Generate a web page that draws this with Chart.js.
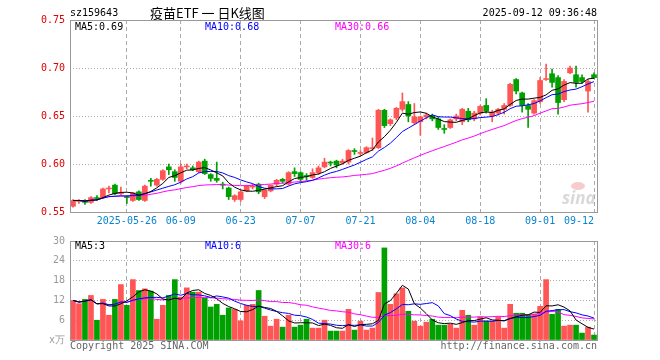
<!DOCTYPE html>
<html>
<head>
<meta charset="utf-8">
<script src="https://cdn.jsdelivr.net/npm/chart.js@4.4.1/dist/chart.umd.min.js"></script>
<style>
body { margin: 0; background: #fff; width: 660px; height: 360px; overflow: hidden; position: relative; }
canvas { position: absolute; left: 0; }
#kline { top: 0; }
#vol { top: 230px; }
</style>
</head>
<body>
<canvas id="kline" width="660" height="230"></canvas>
<canvas id="vol" width="660" height="130"></canvas>
<script>
var dates = [
    '2025-05-13','2025-05-14','2025-05-15','2025-05-16','2025-05-19','2025-05-20','2025-05-21','2025-05-22','2025-05-23','2025-05-26',
    '2025-05-27','2025-05-28','2025-05-29','2025-05-30','2025-06-03','2025-06-04','2025-06-05','2025-06-06','2025-06-09','2025-06-10',
    '2025-06-11','2025-06-12','2025-06-13','2025-06-16','2025-06-17','2025-06-18','2025-06-19','2025-06-20','2025-06-23','2025-06-24',
    '2025-06-25','2025-06-26','2025-06-27','2025-06-30','2025-07-01','2025-07-02','2025-07-03','2025-07-04','2025-07-07','2025-07-08',
    '2025-07-09','2025-07-10','2025-07-11','2025-07-14','2025-07-15','2025-07-16','2025-07-17','2025-07-18','2025-07-21','2025-07-22',
    '2025-07-23','2025-07-24','2025-07-25','2025-07-28','2025-07-29','2025-07-30','2025-07-31','2025-08-01','2025-08-04','2025-08-05',
    '2025-08-06','2025-08-07','2025-08-08','2025-08-11','2025-08-12','2025-08-13','2025-08-14','2025-08-15','2025-08-18','2025-08-19',
    '2025-08-20','2025-08-21','2025-08-22','2025-08-25','2025-08-26','2025-08-27','2025-08-28','2025-08-29','2025-09-01','2025-09-02',
    '2025-09-03','2025-09-04','2025-09-05','2025-09-08','2025-09-09','2025-09-10','2025-09-11','2025-09-12'
];
var openP = [
    .556,.561,.562,.560,.565,.565,.574,.578,.569,.566,
    .562,.571,.562,.583,.578,.584,.597,.592,.582,.597,
    .596,.592,.603,.589,.585,.579,.575,.563,.563,.572,
    .576,.579,.566,.572,.579,.584,.579,.592,.591,.588,
    .586,.591,.597,.602,.603,.601,.602,.614,.611,.612,
    .616,.617,.656,.642,.648,.657,.662,.643,.644,.649,
    .650,.647,.637,.638,.647,.644,.655,.647,.653,.661,
    .650,.653,.657,.661,.688,.674,.661,.653,.665,.688,
    .694,.690,.667,.695,.693,.690,.676,.693
];
var highP = [
    .563,.563,.563,.566,.567,.575,.577,.579,.576,.567,
    .570,.572,.578,.585,.585,.594,.600,.594,.600,.600,
    .598,.603,.605,.590,.602,.581,.576,.568,.572,.578,
    .579,.580,.573,.578,.584,.585,.592,.596,.592,.590,
    .595,.598,.606,.603,.604,.605,.615,.616,.614,.618,
    .627,.657,.657,.647,.659,.674,.665,.663,.650,.653,
    .652,.649,.641,.647,.652,.658,.658,.655,.661,.668,
    .656,.658,.663,.684,.689,.675,.663,.667,.690,.704,
    .699,.692,.688,.702,.702,.693,.688,.695
];
var lowP = [
    .555,.559,.558,.559,.562,.564,.570,.568,.568,.559,
    .561,.562,.561,.577,.577,.583,.589,.582,.580,.595,
    .593,.591,.589,.582,.581,.574,.563,.561,.561,.571,
    .574,.569,.564,.571,.577,.580,.578,.587,.582,.583,
    .585,.589,.596,.598,.596,.600,.600,.610,.609,.611,
    .614,.616,.638,.640,.646,.655,.644,.641,.630,.647,
    .645,.636,.632,.637,.645,.641,.644,.645,.651,.653,
    .644,.651,.652,.660,.673,.654,.638,.652,.663,.687,
    .680,.652,.665,.694,.680,.684,.654,.689
];
var closeP = [
    .562,.562,.560,.565,.564,.574,.575,.569,.570,.565,
    .570,.563,.577,.582,.584,.593,.594,.586,.597,.598,
    .594,.602,.590,.585,.583,.578,.566,.567,.571,.577,
    .577,.571,.573,.578,.583,.582,.591,.590,.584,.587,
    .591,.596,.602,.601,.599,.603,.614,.613,.612,.617,
    .617,.656,.640,.646,.658,.665,.650,.649,.649,.651,
    .647,.638,.636,.646,.650,.657,.646,.653,.660,.655,
    .654,.657,.661,.683,.676,.661,.657,.666,.687,.689,
    .685,.664,.686,.700,.685,.686,.686,.690
];
// 成交量 (万)
var volume = [
    12.0,11.0,12.3,13.5,6.0,12.3,7.5,12.3,16.8,10.5,
    18.3,15.0,15.5,14.8,6.3,10.5,13.5,18.3,13.0,15.8,
    14.5,14.5,12.7,10.0,10.8,7.5,9.7,9.3,5.8,10.5,
    10.8,15.0,7.2,4.2,6.3,3.9,7.5,3.9,4.5,6.3,
    3.6,3.6,6.0,2.7,2.7,2.7,9.3,3.0,5.7,3.0,
    3.6,14.4,27.9,10.8,14.0,15.8,8.7,5.7,4.2,5.4,
    6.3,4.5,4.5,4.8,3.6,9.0,7.5,4.5,7.0,5.7,
    5.7,7.0,3.6,10.8,8.1,8.1,7.5,7.8,10.2,18.3,
    7.8,9.3,4.2,4.5,4.5,2.1,3.9,1.5
];
var tickDates = ['2025-05-26','2025-06-09','2025-06-23','2025-07-07','2025-07-21','2025-08-04','2025-08-18','2025-09-01','2025-09-12'];
var tickLabels = ['2025-05-26','06-09','06-23','07-07','07-21','08-04','08-18','09-01','09-12'];
var priceTicks = [0.55, 0.60, 0.65, 0.70, 0.75];
var volTicks = [0, 6, 12, 18, 24, 30];

var RED = '#ff5555', GREEN = '#00a000';
var MONO = '10px "DejaVu Sans Mono", monospace';
var tickIdx = tickDates.map(function(d) { return dates.indexOf(d); });

function ma(arr, n) {
    return arr.map(function(v, i) {
        var s = 0, c = 0;
        for (var j = Math.max(0, i - n + 1); j <= i; j++) { s += arr[j]; c++; }
        return s / c;
    });
}
var upColor = closeP.map(function(c, i) { return c >= openP[i] ? RED : GREEN; });

function lineSet(data, color) {
    return { type: 'line', data: data, borderColor: color, borderWidth: 1, pointRadius: 0, tension: 0, order: 0 };
}
function frame(chart) {
    var a = chart.chartArea, c = chart.ctx;
    c.save();
    c.strokeStyle = '#999';
    c.lineWidth = 1;
    c.strokeRect(a.left + 0.5, a.top + 0.5, a.right - a.left, a.bottom - a.top);
    c.restore();
}
function xAxis() {
    return {
        type: 'category', offset: true,
        grid: { offset: false, drawTicks: false, color: function(ctx) { return tickIdx.indexOf(ctx.index) >= 0 ? '#aaa' : 'rgba(0,0,0,0)'; } },
        border: { display: false, dash: [4, 3] },
        ticks: { display: false, autoSkip: false },
        afterFit: function(s) { s.height = 0; }
    };
}
function yAxis(ticks, color, fmt) {
    return {
        min: ticks[0], max: ticks[ticks.length - 1],
        afterBuildTicks: function(s) { s.ticks = ticks.map(function(v) { return { value: v }; }); },
        afterFit: function(s) { s.width = 70; },
        grid: { drawTicks: false, color: function(ctx) { return (ctx.index > 0 && ctx.index < ticks.length - 1) ? '#aaa' : 'rgba(0,0,0,0)'; } },
        border: { display: false, dash: [1, 2] },
        ticks: { color: color, padding: 5, font: { family: '"DejaVu Sans Mono", monospace', size: 10 }, callback: fmt }
    };
}

// K线图
var klinePlugin = {
    id: 'klineText',
    afterDraw: function(chart) {
        frame(chart);
        var c = chart.ctx, xs = chart.scales.x;
        c.save();
        c.textBaseline = 'middle';
        c.font = MONO;
        c.fillStyle = '#000';
        c.textAlign = 'left';
        c.fillText('sz159643', 70, 13);
        c.textAlign = 'right';
        c.fillText('2025-09-12 09:36:48', 597, 13);
        c.textAlign = 'left';
        c.font = '13px "Noto Sans CJK SC", sans-serif';
        c.fillText('疫苗ETF 一 日K线图', 150, 13);
        c.font = MONO;
        c.fillStyle = '#000'; c.fillText('MA5:0.69', 75, 27);
        c.fillStyle = '#0000ff'; c.fillText('MA10:0.68', 205, 27);
        c.fillStyle = '#ff00ff'; c.fillText('MA30:0.66', 335, 27);
        c.fillStyle = '#0a84d0';
        tickIdx.forEach(function(idx, k) {
            var px = xs.getPixelForValue(idx);
            c.textAlign = k === tickIdx.length - 1 ? 'right' : 'center';
            c.fillText(tickLabels[k], k === tickIdx.length - 1 ? px : px, 221);
        });
        // sina 水印
        c.fillStyle = 'rgba(230,110,110,0.35)';
        c.beginPath(); c.ellipse(578, 186, 7, 4, 0, 0, Math.PI * 2); c.fill();
        c.fillStyle = 'rgba(170,170,170,0.45)';
        c.font = 'italic bold 17px "Noto Sans", sans-serif';
        c.textAlign = 'left';
        c.fillText('sina', 562, 199);
        c.restore();
    }
};
new Chart(document.getElementById('kline').getContext('2d'), {
    type: 'bar',
    data: {
        labels: dates,
        datasets: [
            lineSet(ma(closeP, 5), '#000000'),
            lineSet(ma(closeP, 10), '#0000ff'),
            lineSet(ma(closeP, 30), '#ff00ff'),
            {
                data: openP.map(function(o, i) { return [Math.min(o, closeP[i]), Math.max(o, closeP[i])]; }),
                backgroundColor: upColor, borderWidth: 0, barThickness: 5, grouped: false, order: 1
            },
            {
                data: lowP.map(function(l, i) { return [l, highP[i]]; }),
                backgroundColor: upColor, borderWidth: 0, barThickness: 1, grouped: false, order: 2
            }
        ]
    },
    options: {
        responsive: false, animation: false, devicePixelRatio: 1,
        layout: { padding: { left: 0, right: 63, top: 20, bottom: 18 } },
        plugins: { legend: { display: false }, tooltip: { enabled: false } },
        scales: {
            x: xAxis(),
            y: yAxis(priceTicks, '#e00000', function(v) { return v.toFixed(2); })
        }
    },
    plugins: [klinePlugin]
});

// 成交量
var volPlugin = {
    id: 'volText',
    afterDraw: function(chart) {
        frame(chart);
        var c = chart.ctx;
        c.save();
        c.textBaseline = 'middle';
        c.font = MONO;
        c.textAlign = 'left';
        c.fillStyle = '#000'; c.fillText('MA5:3', 75, 16);
        c.fillStyle = '#0000ff'; c.fillText('MA10:6', 205, 16);
        c.fillStyle = '#ff00ff'; c.fillText('MA30:6', 335, 16);
        c.fillStyle = '#666';
        c.fillText('Copyright 2025 SINA.COM', 70, 116);
        c.textAlign = 'right';
        c.fillText('http://finance.sina.com.cn', 597, 116);
        c.restore();
    }
};
new Chart(document.getElementById('vol').getContext('2d'), {
    type: 'bar',
    data: {
        labels: dates,
        datasets: [
            lineSet(ma(volume, 5), '#000000'),
            lineSet(ma(volume, 10), '#0000ff'),
            lineSet(ma(volume, 30), '#ff00ff'),
            { data: volume, backgroundColor: upColor, borderWidth: 0, barThickness: 5, grouped: false, order: 1 }
        ]
    },
    options: {
        responsive: false, animation: false, devicePixelRatio: 1,
        layout: { padding: { left: 0, right: 63, top: 10, bottom: 20 } },
        plugins: { legend: { display: false }, tooltip: { enabled: false } },
        scales: {
            x: xAxis(),
            y: yAxis(volTicks, '#999', function(v) { return v === 0 ? 'x万' : v; })
        }
    },
    plugins: [volPlugin]
});
</script>
</body>
</html>
